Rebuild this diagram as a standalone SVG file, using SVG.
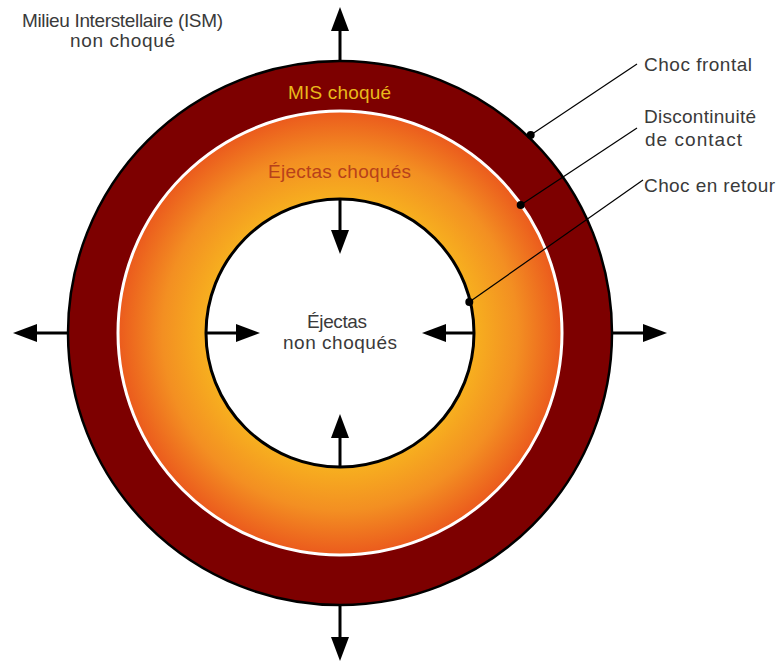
<svg xmlns="http://www.w3.org/2000/svg" width="776" height="662" viewBox="0 0 776 662">
  <style>
    text { font-family: "Liberation Sans", Arial, sans-serif; font-size: 19px; }
    .lbl { fill: #3a3a3a; }
    .arrow { stroke: #000; stroke-width: 3; fill: none; marker-end: url(#head); }
    .leader { stroke: #000; stroke-width: 1.2; fill: none; }
    .dot { fill: #000; }
  </style>
  <defs>
    <radialGradient id="ejecta" gradientUnits="userSpaceOnUse" cx="340" cy="333" r="222">
      <stop offset="0.6" stop-color="#f7b01f"/>
      <stop offset="0.8" stop-color="#f38f22"/>
      <stop offset="1" stop-color="#eb5a1d"/>
    </radialGradient>
    <marker id="head" markerUnits="userSpaceOnUse" markerWidth="24" markerHeight="18" viewBox="0 0 24 18" refX="0" refY="9" orient="auto">
      <path d="M0,0 L24,9 L0,18 z" fill="#000"/>
    </marker>
  </defs>

  <g id="ism">
    <text class="lbl" x="22" y="27" textLength="201">Milieu Interstellaire (ISM)</text>
    <text class="lbl" x="70" y="47" textLength="105">non choqué</text>
  </g>

  <g id="shocked-ism">
    <circle cx="340" cy="333" r="272" fill="#7d0000" stroke="#000" stroke-width="2.5"/>
    <text x="288" y="99" textLength="103" fill="#e9b91c">MIS choqué</text>
  </g>

  <g id="shocked-ejecta">
    <circle cx="340" cy="333" r="222" fill="url(#ejecta)" stroke="#fff" stroke-width="3"/>
    <text x="268" y="178" textLength="143" fill="#b8411a">Éjectas choqués</text>
  </g>

  <g id="unshocked-ejecta">
    <circle cx="340" cy="333" r="134" fill="#fff" stroke="#000" stroke-width="3"/>
    <text class="lbl" x="307" y="328" textLength="60">Éjectas</text>
    <text class="lbl" x="283" y="349" textLength="114">non choqués</text>
  </g>

  <g id="connectors">
    <path class="arrow" d="M340,61 V31"/>
    <path class="arrow" d="M340,605 V637"/>
    <path class="arrow" d="M68,333 H37"/>
    <path class="arrow" d="M612,333 H643"/>
    <path class="arrow" d="M340,199 V230"/>
    <path class="arrow" d="M340,467 V438"/>
    <path class="arrow" d="M206,333 H236"/>
    <path class="arrow" d="M474,333 H446"/>
    <path class="leader" d="M530.7,135 L637,64"/>
    <path class="leader" d="M520.7,205 L637,128"/>
    <path class="leader" d="M469.3,302 L643,180"/>
    <circle class="dot" cx="530.7" cy="135" r="4"/>
    <circle class="dot" cx="520.7" cy="205" r="4"/>
    <circle class="dot" cx="469.3" cy="302" r="4"/>
  </g>

  <g id="labels">
    <text class="lbl" x="644" y="71" textLength="108">Choc frontal</text>
    <text class="lbl" x="644" y="123" textLength="112">Discontinuité</text>
    <text class="lbl" x="645" y="146" textLength="97">de contact</text>
    <text class="lbl" x="644" y="192" textLength="131">Choc en retour</text>
  </g>
</svg>
